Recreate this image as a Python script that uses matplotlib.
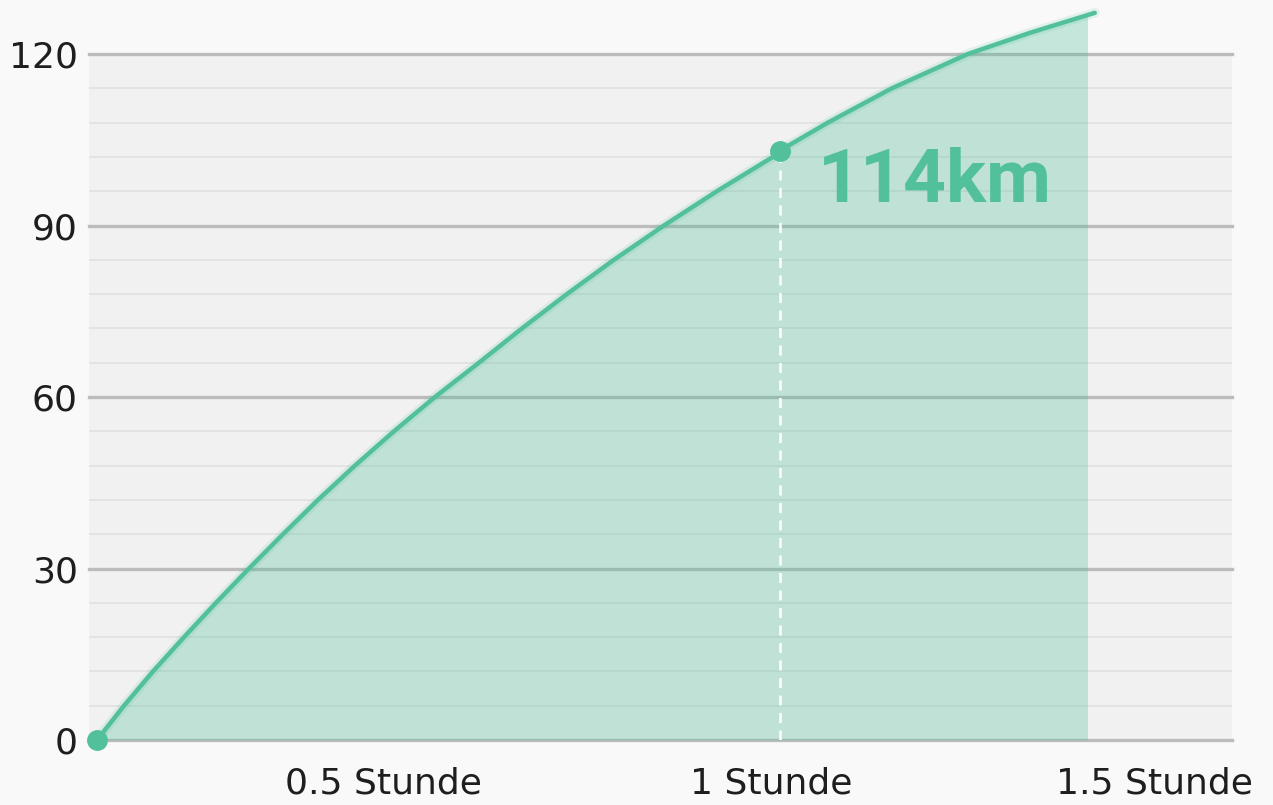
import matplotlib
matplotlib.use("Agg")
import matplotlib.pyplot as plt
from matplotlib.patches import Rectangle

# distance over time (hours -> km)
hours = [0.0, 0.0395, 0.082, 0.1274, 0.1742, 0.2225, 0.2723, 0.3236, 0.3777, 0.4348,
         0.4949, 0.5593, 0.6223, 0.6881, 0.757, 0.8302, 0.9078, 0.9898, 1.0, 1.0703,
         1.164, 1.2753, 1.366, 1.4612]
km = [0, 6, 12, 18, 24, 30, 36, 42, 48, 54,
      60, 66, 72, 78, 84, 90, 96, 102, 103.1, 108,
      114, 120, 123.7, 127.2]
fill_end = 1.4495

marker_x = [0.0, 1.0]
marker_y = [0.0, 103.1]
label_text = "114km"

xtick_pos = [0.419, 0.988, 1.549]
xtick_labels = ["0.5 Stunde", "1 Stunde", "1.5 Stunde"]
ytick_major = [0, 30, 60, 90, 120]
ytick_minor = [6, 12, 18, 24, 36, 42, 48, 54, 66, 72, 78, 84, 96, 102, 108, 114]

green = "#52c09a"

plt.rcParams['font.family'] = ['DejaVu Sans']

fig = plt.figure(figsize=(12.73, 8.05), dpi=100)
fig.patch.set_facecolor("#f9f9f9")
ax = fig.add_axes([0.0699, 0.0807, 0.8978, 0.8522])
ax.set_facecolor("#f1f1f1")

ax.set_xlim(-0.0117, 1.662)
ax.set_ylim(0, 120)

for v in ytick_minor:
    ax.axhline(v, color="#e2e2e2", lw=1.3, zorder=1)
for v in ytick_major:
    ax.axhline(v, color="#bcbcbc", lw=2.4, zorder=1, clip_on=False)

fill = ax.fill_between(hours, km, 0, color=green, alpha=0.31, lw=0, zorder=2)
clip = Rectangle((-0.1, -1), fill_end + 0.1, 300, transform=ax.transData)
fill.set_clip_path(clip)

ax.vlines(marker_x[1], 0, marker_y[1], colors="white", linestyles=(0, (4, 3)), lw=1.8, zorder=3)

ax.plot(hours, km, color=green, lw=7, alpha=0.15, zorder=3, clip_on=False, solid_capstyle="round")
ax.plot(hours, km, color=green, lw=3.2, zorder=4, clip_on=False, solid_capstyle="round")
ax.plot(marker_x, marker_y, "o", color=green, ms=14, zorder=5, clip_on=False)

ax.text(1.056, 94.1, label_text, color=green, fontsize=54, fontweight="bold",
        family="Roboto", ha="left", va="baseline", zorder=6)

ax.set_yticks(ytick_major)
ax.set_yticklabels([str(v) for v in ytick_major])
ax.set_xticks(xtick_pos)
ax.set_xticklabels(xtick_labels)
ax.tick_params(axis="both", length=0, labelsize=26, colors="#1e1e1e")
ax.tick_params(axis="y", pad=8)
ax.tick_params(axis="x", pad=19)
for s in ax.spines.values():
    s.set_visible(False)

fig.savefig("out.png", dpi=100, facecolor=fig.get_facecolor())
